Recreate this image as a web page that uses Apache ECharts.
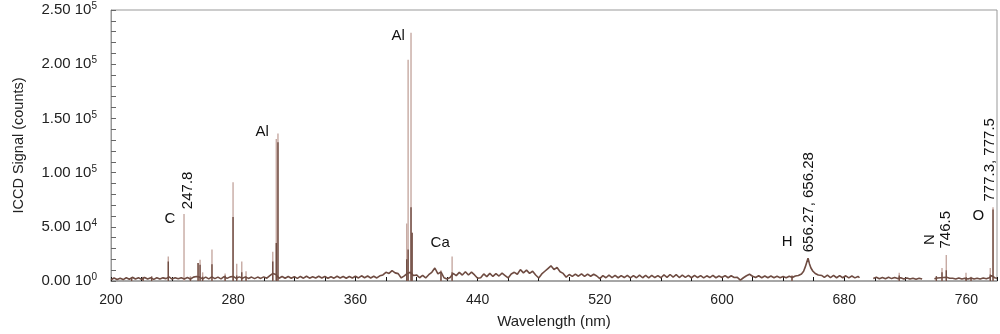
<!DOCTYPE html>
<html>
<head>
<meta charset="utf-8">
<script src="https://cdn.jsdelivr.net/npm/echarts@6.0.0/dist/echarts.min.js"></script>
<style>
html,body{margin:0;padding:0;background:#fff;}
#chart{width:1000px;height:334px;}
</style>
</head>
<body>
<div id="chart"></div>
<script>
// ---- axis ticks / labels ----
const xTickLabels = [200, 280, 360, 440, 520, 600, 680, 760];
const xTickMarks = [200,220,240,260,280,300,320,340,360,380,400,420,440,460,480,500,520,540,560,580,600,620,640,660,680,700,720,740,760,780];
const yTickMantissa = ['0.00 10', '5.00 10', '1.00 10', '1.50 10', '2.00 10', '2.50 10'];
const yTickExponent = ['0', '4', '5', '5', '5', '5'];

// ---- continuum (dark trace), [wavelength nm, counts] ----
const contUV = [
[200,1200],[202,2800],[204,1400],[206,2600],[208,1300],[210,3000],[212,1600],[214,3400],[216,1800],[218,3000],
[220,1500],[222,3200],[224,1800],[226,2900],[228,1500],[230,3000],[232,1800],[234,2900],[236,2200],[238,3800],
[240,1800],[242,2900],[244,2000],[246,3000],[248,1900],[250,3200],[252,1800],[254,3600],[256,4200],[258,3600],
[260,2000],[262,3600],[264,2000],[266,3800],[268,2200],[270,3600],[272,2000],[274,4000],[276,2400],[278,3800],
[280,4200],[282,2400],[284,3800],[286,2600],[288,3800],[290,2400],[292,3600],[294,2200],[296,3600],[298,2400]
];
const contNearUV = [
[300,3800],[302,2600],[304,5000],[306,7000],[308,6000],[310,2600],[312,4200],[314,2600],[316,4200],[318,2600],
[320,4000],[322,2400],[324,4200],[326,2600],[328,4400],[330,2600],[332,4000],[334,2800],[336,4400],[338,2800],
[340,4200],[342,2600],[344,4000],[346,2600],[348,4400],[350,2800],[352,4200],[354,2600],[356,4200],[358,2800],
[360,4400],[362,2800],[364,4800],[366,3000],[368,4600],[370,2800],[372,4400],[374,2800],[376,4800],[378,5600],
[380,8000],[382,7000],[384,9500],[386,7500],[388,6800],[390,2800],[392,4800],[394,7000],[396,8000],[398,5000]
];
const contBlue = [
[400,5600],[402,3000],[404,5200],[406,2800],[408,5800],[410,8000],[412,12000],[414,6500],[416,8500],[418,3000],
[420,1800],[422,3200],[424,7000],[426,5000],[428,8000],[430,5500],[432,8500],[434,5500],[436,8200],[438,5600],
[440,2500],[442,3000],[444,6500],[446,4000],[448,7000],[450,4200],[452,6800],[454,4600],[456,7200],[458,5000],
[460,2800],[462,6500],[464,8000],[466,6200],[468,10500],[470,7500],[472,10000],[474,7000],[476,9000],[478,5500],
[480,2800],[482,6500],[484,9000],[486,11500],[488,14000],[490,10500],[492,12500],[494,8500],[496,7000],[498,3500]
];
const contGreen = [
[500,6000],[502,4200],[504,6400],[506,4400],[508,6600],[510,4200],[512,6400],[514,4400],[516,6200],[518,4600],
[520,2200],[522,5000],[524,3000],[526,5400],[528,3200],[530,5200],[532,3000],[534,5000],[536,3200],[538,5200],
[540,2800],[542,5000],[544,3000],[546,5400],[548,3000],[550,5200],[552,2900],[554,5200],[556,3200],[558,5000],
[560,3000],[562,5600],[564,3400],[566,6000],[568,3600],[570,5800],[572,3200],[574,5400],[576,3400],[578,5200],
[580,3000],[582,5200],[584,3200],[586,5000],[588,2900],[590,4800],[592,3200],[594,5200],[596,3000],[598,4600],
[600,3200],[602,5000],[604,3000],[606,4800],[608,3200],[610,3400],[612,800],[614,3000],[616,4800],[618,6200],
[620,4400],[622,3200],[624,4800],[626,3000],[628,4600],[630,3000],[632,4600],[634,3000],[636,4400],[638,3000]
];
const contRed = [
[640,4200],[642,3000],[644,4400],[646,3200],[648,4600],[650,5000],[652,6500],[653.4,9000],[654.5,13000],[655.3,16600],
[656.3,21000],[657.2,16000],[658.2,12000],[659.5,9000],[661,7000],[663,5600],[665.4,5000],[667,3400],[669,5400],[671,3200],
[673,5200],[675,3000],[677,5000],[679,3000],[681,4800],[683,2900],[685,4600],[687,2900],[689,4200],[690,3000],
[690.5,'-'],[699,2400],[701,3400],[703,2000],[705,3200],[707,2000],[709,3400],[711,2200],[713,3200],[715,2200],
[717,3000],[719,1800],[721,2800],[723,1800],[725,2600],[727,1600],[729,2600],[731,1800],[733,'-'],[739,2000],
[741,2800],[743,3000],[745,3200],[747,3400],[749,2600],[751,2600],[753,1800],[755,2800],[757,1800],[759,2600],
[761,1800],[763,2800],[765,1800],[767,2600],[769,1800],[771,2800],[773,2000],[775,3000],[776.5,5000],[777.5,6000],
[778.5,3000],[780,2500]
];

// ---- emission lines ----
const peakWl    = [213.5, 221, 226.6, 237.5, 247.8, 252, 257.0, 258.3, 260.0, 266.1, 274.7, 279.9, 282.3, 285.6, 288.4, 305.9, 308.2, 309.3, 393.6, 394.5, 396.4, 397.1, 416.0, 423.3, 645.8, 716.0, 740.3, 744.0, 746.8, 759.7, 763.0, 775.6, 777.4];
const peakLight = [3500, 4000, 4500, 22700, 61800, 4500, 16600, 19700, 8000, 29000, 7000, 91000, 16000, 18000, 9000, 27000, 131000, 136000, 53000, 204000, 229000, 44500, 10000, 22700, 5500, 7500, 3500, 12000, 24000, 7500, 4000, 12000, 68000];
const peakDark  = [3000, 3500, 4000, 18000, 0, 3000, 16600, 15000, 4000, 15500, 5000, 59000, 5000, 8000, 4000, 18000, 35000, 128000, 20000, 29000, 68000, 44500, 8000, 8000, 4500, 5000, 4500, 8000, 10000, 3000, 3000, 6000, 66000];

// ---- annotations ----
const annText   = ['C', '247.8', 'Al', 'Al', 'Ca', 'H', '656.27, 656.28', 'N', '746.5', 'O', '777.3, 777.5'];
const annWl     = [238.6, 250.4, 298.9, 388.0, 415.5, 642.7, 657.1, 736.3, 746.8, 767.8, 775.6];
const annVal    = [57300, 83600, 138000, 226000, 35500, 36400, 72700, 38200, 47300, 60000, 111800];
const annRotate = [0, 90, 0, 0, 0, 0, 90, 90, 90, 0, 90];

const DARK = '#6f4c42';
const LIGHT = '#c6a9a2';
const FONT = '"Liberation Sans", Arial, Helvetica, sans-serif';

const continuum = contUV.concat(contNearUV, contBlue, contGreen, contRed);
const lightData = peakWl.map((w, i) => [w, peakLight[i]]);
const darkData = peakWl.map((w, i) => [w, peakDark[i]]);
const markData = annText.map((t, i) => ({
  name: t,
  coord: [annWl[i], annVal[i]],
  label: { rotate: annRotate[i] }
}));

const chart = echarts.init(document.getElementById('chart'), null, { renderer: 'canvas' });
chart.setOption({
  animation: false,
  backgroundColor: '#fff',
  grid: { left: 111, right: 3, top: 10, bottom: 49, show: true, borderColor: '#999', borderWidth: 1, backgroundColor: 'transparent' },
  xAxis: {
    type: 'value', min: 200, max: 780,
    name: 'Wavelength (nm)', nameLocation: 'middle', nameGap: 33,
    nameTextStyle: { fontFamily: FONT, fontSize: 15, color: '#222' },
    axisLine: { show: true, lineStyle: { color: '#999', width: 1.5 } },
    axisTick: { show: true, inside: true, length: 4, lineStyle: { color: '#111' }, customValues: xTickMarks },
    axisLabel: { customValues: xTickLabels, fontFamily: FONT, fontSize: 14, color: '#222', margin: 12 },
    splitLine: { show: false }
  },
  yAxis: {
    type: 'value', min: 0, max: 250000, interval: 50000,
    name: 'ICCD Signal (counts)', nameLocation: 'middle', nameGap: 85,
    nameTextStyle: { fontFamily: FONT, fontSize: 14.5, color: '#222' },
    axisLine: { show: true, lineStyle: { color: '#999', width: 1 } },
    axisTick: { show: true, inside: true, length: 5, lineStyle: { color: '#666' } },
    minorTick: { show: true, splitNumber: 5, length: 5, lineStyle: { color: '#666' } },
    axisLabel: {
      margin: 14, color: '#222',
      formatter: function (v) {
        const k = Math.round(v / 50000);
        return '{m|' + yTickMantissa[k] + '}{s|' + yTickExponent[k] + '}';
      },
      rich: {
        m: { fontFamily: FONT, fontSize: 15, color: '#222', lineHeight: 17 },
        s: { fontFamily: FONT, fontSize: 10, color: '#222', lineHeight: 10, verticalAlign: 'top' }
      }
    },
    splitLine: { show: false }
  },
  series: [
    {
      type: 'bar', name: 'light', data: lightData, barWidth: 1.4, barGap: '-100%',
      itemStyle: { color: LIGHT }, z: 1, silent: true
    },
    {
      type: 'line', name: 'continuum', data: continuum, showSymbol: false, connectNulls: false,
      lineStyle: { color: DARK, width: 1.6 }, itemStyle: { color: DARK }, z: 2, silent: true,
      markPoint: {
        symbol: 'circle', symbolSize: 0, silent: true,
        label: { show: true, position: 'inside', formatter: '{b}', fontFamily: FONT, fontSize: 15, color: '#111' },
        data: markData
      }
    },
    {
      type: 'bar', name: 'dark', data: darkData, barWidth: 1.4, barGap: '-100%',
      itemStyle: { color: DARK }, z: 3, silent: true
    }
  ]
});
</script>
</body>
</html>
